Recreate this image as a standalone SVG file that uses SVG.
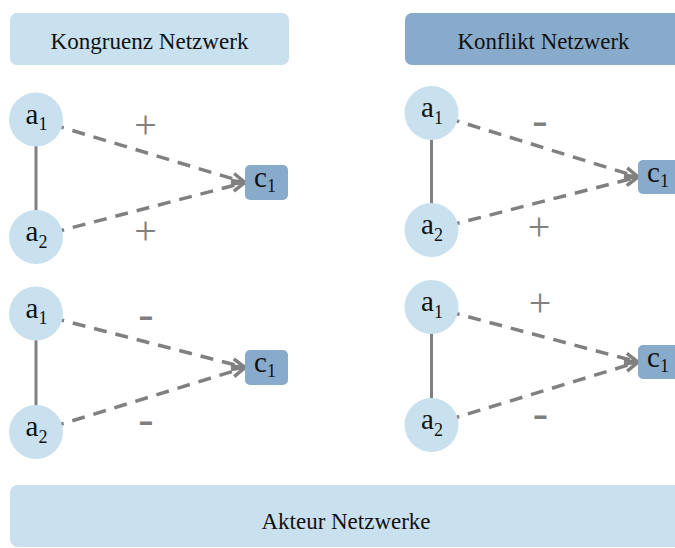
<svg xmlns="http://www.w3.org/2000/svg" width="675" height="548" viewBox="0 0 675 548">
<defs>
<style>
.hdr-light{fill:#c9e0ee}
.hdr-dark{fill:#88abcc}
.actor{fill:#c9e0ee}
.concept{fill:#88abcc}
text{font-family:'Liberation Serif','DejaVu Serif','Noto Serif',serif}
.title{font-size:23px;fill:#111;text-anchor:middle}
.lbl{font-size:29px;fill:#111;text-anchor:middle}
.sub{font-size:18px}
.plus{font-size:40px;fill:#808080;text-anchor:middle}
.minus{font-size:46px;fill:#808080;text-anchor:middle}
.solid{stroke:#808080;stroke-width:3;fill:none}
.dash{stroke:#808080;stroke-width:3.5;fill:none;stroke-dasharray:13 9;stroke-dashoffset:6;marker-end:url(#chev)}
</style>
<marker id="chev" markerUnits="userSpaceOnUse" markerWidth="16" markerHeight="14" refX="13" refY="6" orient="auto" overflow="visible">
<path d="M0,0.5 L13,6 L0,11.5" fill="none" stroke="#808080" stroke-width="3.5"/>
</marker>
</defs>

<g id="header-kongruenz">
<rect class="hdr-light" x="10" y="13" width="279" height="52" rx="7"/>
<text class="title" x="149.5" y="48.5" textLength="198" lengthAdjust="spacingAndGlyphs">Kongruenz Netzwerk</text>
</g>
<g id="header-konflikt">
<rect class="hdr-dark" x="405" y="13" width="279" height="52" rx="7"/>
<text class="title" x="543.5" y="48.5" textLength="172" lengthAdjust="spacingAndGlyphs">Konflikt Netzwerk</text>
</g>
<g id="footer-akteur">
<rect class="actor" x="10" y="485" width="675" height="62" rx="8"/>
<text class="title" x="346" y="528.5" textLength="169" lengthAdjust="spacingAndGlyphs">Akteur Netzwerke</text>
</g>

<g id="connectors">
<line class="solid" x1="36" y1="119.5" x2="36" y2="237"/>
<line class="dash" x1="36" y1="119.5" x2="245" y2="182.5"/>
<line class="dash" x1="36" y1="237" x2="245" y2="182.5"/>
<line class="solid" x1="36" y1="313.5" x2="36" y2="432"/>
<line class="dash" x1="36" y1="313.5" x2="245" y2="367.5"/>
<line class="dash" x1="36" y1="432" x2="245" y2="367.5"/>
<line class="solid" x1="431.5" y1="113" x2="431.5" y2="230"/>
<line class="dash" x1="431.5" y1="113" x2="638" y2="177"/>
<line class="dash" x1="431.5" y1="230" x2="638" y2="177"/>
<line class="solid" x1="431.5" y1="307" x2="431.5" y2="425"/>
<line class="dash" x1="431.5" y1="307" x2="638" y2="362"/>
<line class="dash" x1="431.5" y1="425" x2="638" y2="362"/>
</g>

<g id="edge-labels">
<text class="plus" x="145.5" y="137.5">+</text>
<text class="plus" x="145.5" y="243.5">+</text>
<text class="minus" x="146" y="328.7">-</text>
<text class="minus" x="146" y="434.4">-</text>
<text class="minus" x="540" y="134.9">-</text>
<text class="plus" x="539" y="240">+</text>
<text class="plus" x="540" y="316">+</text>
<text class="minus" x="540.5" y="427.9">-</text>
</g>

<g id="kong-pos-a1"><circle class="actor" cx="36" cy="119.5" r="27"/><text class="lbl" x="36.5" y="123.5">a<tspan class="sub" dy="6.5">1</tspan></text></g>
<g id="kong-pos-a2"><circle class="actor" cx="36" cy="237" r="27"/><text class="lbl" x="36.5" y="241">a<tspan class="sub" dy="6.5">2</tspan></text></g>
<g id="kong-pos-c1"><rect class="concept" x="245" y="165" width="43" height="35" rx="5"/><text class="lbl" x="265" y="187">c<tspan class="sub" dy="5">1</tspan></text></g>

<g id="kong-neg-a1"><circle class="actor" cx="36" cy="313.5" r="27"/><text class="lbl" x="36.5" y="317.5">a<tspan class="sub" dy="6.5">1</tspan></text></g>
<g id="kong-neg-a2"><circle class="actor" cx="36" cy="432" r="27"/><text class="lbl" x="36.5" y="436">a<tspan class="sub" dy="6.5">2</tspan></text></g>
<g id="kong-neg-c1"><rect class="concept" x="245" y="350" width="43" height="35" rx="5"/><text class="lbl" x="265" y="372">c<tspan class="sub" dy="5">1</tspan></text></g>

<g id="konf-a-a1"><circle class="actor" cx="431.5" cy="113" r="27"/><text class="lbl" x="432" y="117">a<tspan class="sub" dy="6.5">1</tspan></text></g>
<g id="konf-a-a2"><circle class="actor" cx="431.5" cy="230" r="27"/><text class="lbl" x="432" y="234">a<tspan class="sub" dy="6.5">2</tspan></text></g>
<g id="konf-a-c1"><rect class="concept" x="638" y="160" width="43" height="34" rx="5"/><text class="lbl" x="658" y="182">c<tspan class="sub" dy="5">1</tspan></text></g>

<g id="konf-b-a1"><circle class="actor" cx="431.5" cy="307" r="27"/><text class="lbl" x="432" y="311">a<tspan class="sub" dy="6.5">1</tspan></text></g>
<g id="konf-b-a2"><circle class="actor" cx="431.5" cy="425" r="27"/><text class="lbl" x="432" y="429">a<tspan class="sub" dy="6.5">2</tspan></text></g>
<g id="konf-b-c1"><rect class="concept" x="638" y="345" width="43" height="34" rx="5"/><text class="lbl" x="658" y="367">c<tspan class="sub" dy="5">1</tspan></text></g>
</svg>
